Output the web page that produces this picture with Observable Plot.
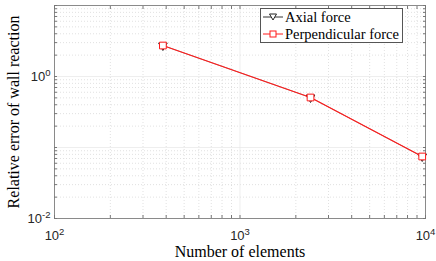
<!DOCTYPE html>
<html><head><meta charset="utf-8">
<script src="https://cdn.jsdelivr.net/npm/d3@7"></script>
<script src="https://cdn.jsdelivr.net/npm/@observablehq/plot@0.6"></script>
<style>
body{margin:0;background:#fff;}
#wrap{position:relative;width:436px;height:261px;}
#legend{position:absolute;left:260px;top:8px;width:141px;height:33px;border:1px solid #555;background:#fff;font-family:"Liberation Serif",serif;font-size:14.5px;color:#000;}
#legend div{position:absolute;left:0;height:16px;line-height:16px;white-space:nowrap;}
#legend svg{position:absolute;left:1px;top:0;}
#legend span{position:absolute;left:24px;top:0;}
</style>
</head><body><div id="wrap"><div id="legend"></div></div>
<script>
const elements = [384, 2400, 9600];
const axialForce = [2.73, 0.506, 0.0747];
const perpendicularForce = [2.73, 0.506, 0.0747];
const seriesNames = ["Axial force", "Perpendicular force"];
const xMajor = [100, 1000, 10000];
const yMajor = [0.01, 0.1, 1, 10];
const yLabeled = [0.01, 1];
const xMinor = [200,300,400,500,600,700,800,900,2000,3000,4000,5000,6000,7000,8000,9000];
const yMinor = [0.02,0.03,0.04,0.05,0.06,0.07,0.08,0.09,0.2,0.3,0.4,0.5,0.6,0.7,0.8,0.9,2,3,4,5,6,7,8,9];

const fmt = v => "10^" + Math.round(Math.log10(v));

const axial = elements.map((n,i) => ({n, v: axialForce[i]}));
const perp = elements.map((n,i) => ({n, v: perpendicularForce[i]}));

const chart = Plot.plot({
  width: 436, height: 261,
  marginLeft: 54, marginRight: 11, marginTop: 5, marginBottom: 43,
  x: {type: "log", domain: [100, 10000]},
  y: {type: "log", domain: [0.01, 10]},
  style: {background: "#fff"},
  marks: [
    Plot.ruleX(xMinor, {stroke: "#d4d4d4", strokeDasharray: "1,2", strokeWidth: 0.7}),
    Plot.ruleY(yMinor, {stroke: "#d4d4d4", strokeDasharray: "1,2", strokeWidth: 0.7}),
    Plot.ruleX(xMajor, {stroke: "#e6e6e6", strokeWidth: 0.7}),
    Plot.ruleY(yMajor, {stroke: "#e6e6e6", strokeWidth: 0.7}),
    Plot.frame({stroke: "#8a8a8a", strokeWidth: 1}),
    Plot.axisX(xMajor.concat(xMinor), {anchor: "bottom", tickSize: -3, tickFormat: () => "", stroke: "#777", label: null}),
    Plot.axisX(xMajor.concat(xMinor), {anchor: "top", tickSize: -3, tickFormat: () => "", stroke: "#777", label: null}),
    Plot.axisY(yMajor.concat(yMinor), {anchor: "left", tickSize: -3, tickFormat: () => "", stroke: "#777", label: null}),
    Plot.axisY(yMajor.concat(yMinor), {anchor: "right", tickSize: -3, tickFormat: () => "", stroke: "#777", label: null}),
    Plot.axisX(xMajor, {anchor: "bottom", tickSize: 0, tickPadding: 12, tickFormat: fmt, fontSize: 13, fontFamily: "Liberation Sans, Arial, sans-serif", fill: "#262626", label: null, textAnchor: "middle"}),
    Plot.axisY(yLabeled, {anchor: "left", tickSize: 0, tickPadding: 4, tickFormat: fmt, fontSize: 13, fontFamily: "Liberation Sans, Arial, sans-serif", fill: "#262626", label: null}),
    Plot.axisX([], {anchor: "bottom", label: "Number of elements", labelAnchor: "center", labelArrow: "none", labelOffset: 38, fontSize: 16, fontFamily: "Liberation Serif, serif", fill: "#000"}),
    Plot.axisY([], {anchor: "left", label: "Relative error of wall reaction", labelAnchor: "center", labelArrow: "none", labelOffset: 47, fontSize: 16, fontFamily: "Liberation Serif, serif", fill: "#000"}),
    Plot.line(axial, {x: "n", y: "v", stroke: "#333", strokeWidth: 0.5}),
    Plot.dot(axial, {x: "n", y: "v", symbol: "triangle", rotate: 180, r: 3.2, stroke: "#222", fill: "#fff", strokeWidth: 1}),
    Plot.line(perp, {x: "n", y: "v", stroke: "#ff1a1a", strokeWidth: 1.2}),
    Plot.dot(perp, {x: "n", y: "v", symbol: "square", r: 3.8, stroke: "#ff1a1a", fill: "#fff", strokeWidth: 1})
  ]
});
const wrap = document.getElementById("wrap");
wrap.insertBefore(chart, wrap.firstChild);

// render "10^k" tick labels with real superscripts
d3.select(chart).selectAll("text").each(function() {
  const t = d3.select(this);
  if (t.selectAll("tspan").size() > 0) return;
  const s = t.text();
  const m = /^10\^(-?\d+)$/.exec(s);
  if (!m) return;
  t.text(null);
  t.append("tspan").text("10");
  t.append("tspan").attr("dy", "-0.5em").attr("font-size", "9.5px").text(m[1]);
});

const legend = document.getElementById("legend");
legend.innerHTML =
  `<div style="top:0px"><svg width="22" height="16"><line x1="1" y1="8" x2="21" y2="8" stroke="#333"/><path d="M7.5,5 L14.5,5 L11,11 Z" fill="#fff" stroke="#222"/></svg><span>${seriesNames[0]}</span></div>` +
  `<div style="top:17px"><svg width="22" height="16"><line x1="1" y1="8" x2="21" y2="8" stroke="#ff1a1a"/><rect x="8" y="5" width="6" height="6" fill="#fff" stroke="#ff1a1a"/></svg><span>${seriesNames[1]}</span></div>`;
</script>
</body></html>
